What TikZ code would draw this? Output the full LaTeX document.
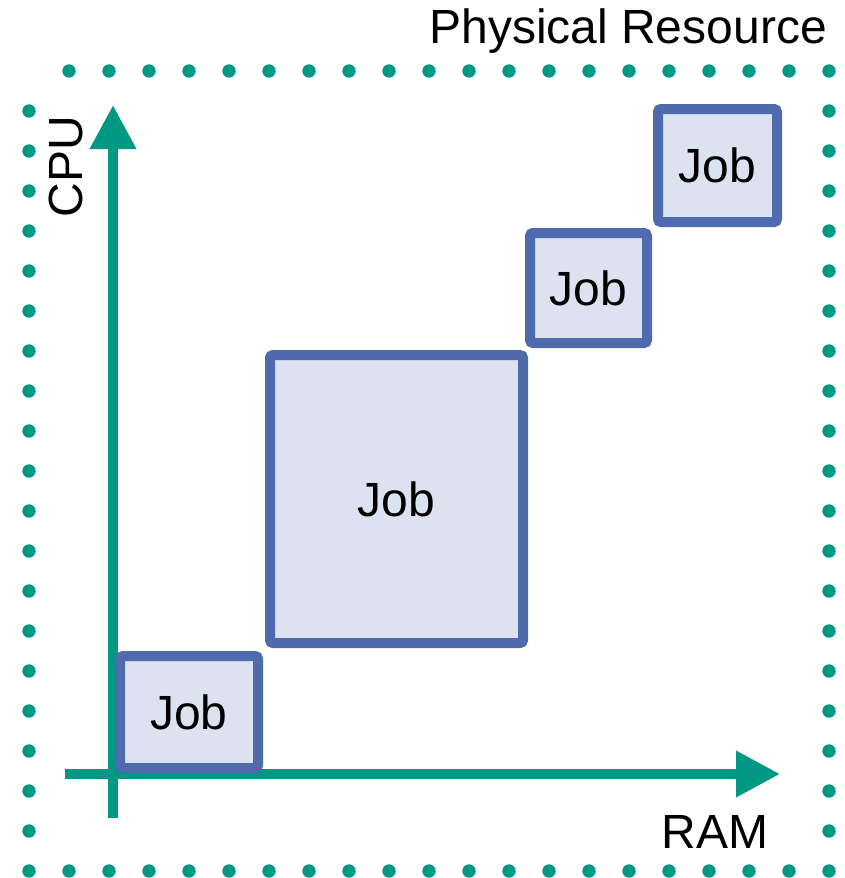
\documentclass[tikz,border=0pt]{standalone}
\usepackage{fontspec}
\setmainfont{Liberation Sans}
\usetikzlibrary{arrows.meta}
\definecolor{teal1}{RGB}{0,152,130}
\definecolor{jobline}{RGB}{80,106,174}
\definecolor{jobfill}{RGB}{221,226,240}
\tikzset{
  dotc/.style={fill=teal1},
  axis/.style={draw=teal1, line width=10pt, -{Triangle[length=44pt,width=44pt]}},
  jobbox/.style={draw=jobline, fill=jobfill, line width=10pt, rounded corners=3pt, inner sep=0pt,
    font=\fontsize{48}{50}\selectfont},
  lbl/.style={inner sep=0pt, font=\fontsize{48}{50}\selectfont}
}
\begin{document}
\begin{tikzpicture}[x=1pt,y=1pt]
\useasboundingbox (0,0) rectangle (844,-878);
% dotted frame
\foreach \i in {1,...,20} {
  \fill[dotc] (29+40*\i,-71) circle (6.7);
  \fill[dotc] (829,-71-40*\i) circle (6.7);
}
\foreach \i in {0,...,19} \fill[dotc] (29+40*\i,-871) circle (6.7);
\foreach \i in {1,...,19} \fill[dotc] (29,-71-40*\i) circle (6.7);
% axes
\coordinate (yo) at (113,-818);
\coordinate (yt) at (113,-105);
\coordinate (xo) at (65,-774);
\coordinate (xt) at (780,-774);
\draw[axis] (yo) -- (yt);
\draw[axis] (xo) -- (xt);
% labels
\node[lbl, anchor=base east] (phys) at (827,-43) {Physical Resource};
\node[lbl, rotate=90] (cpu) at (65.5,-166.5) {CPU};
\node[lbl] (ram) at (715,-832) {RAM};
% jobs
\node[jobbox, minimum width=138pt, minimum height=112pt] (j1) at (189,-712) {Job};
\node[jobbox, minimum width=253pt, minimum height=288pt] (j2) at (396.5,-499) {Job};
\node[jobbox, minimum width=117pt, minimum height=110pt] (j3) at (588.5,-288) {Job};
\node[jobbox, minimum width=119pt, minimum height=113pt] (j4) at (717.5,-165.5) {Job};
\end{tikzpicture}
\end{document}
